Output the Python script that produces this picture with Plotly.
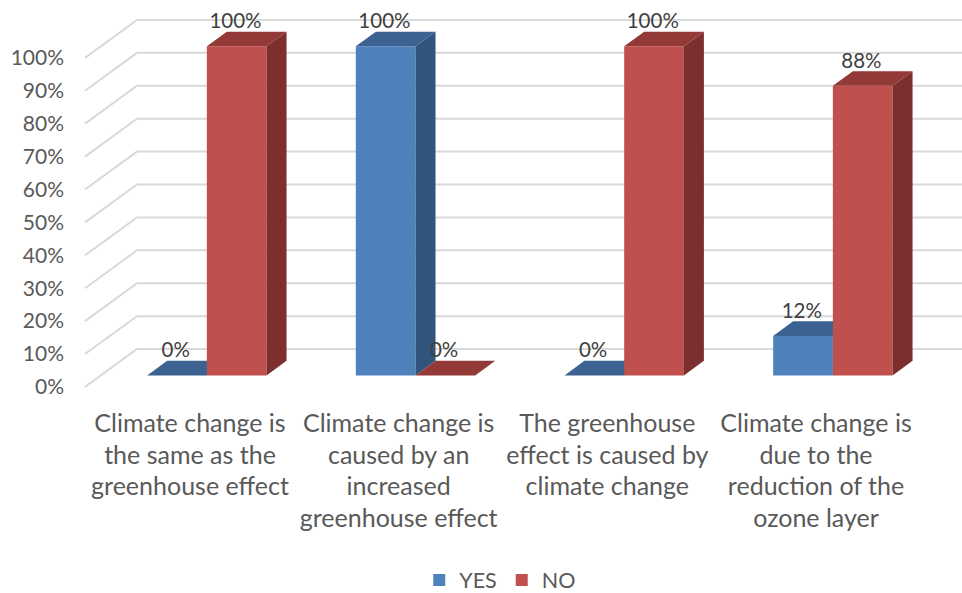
import plotly.graph_objects as go

# --- data ---
category_lines = [
    ["Climate change is", "the same as the", "greenhouse effect"],
    ["Climate change is", "caused by an", "increased", "greenhouse effect"],
    ["The greenhouse", "effect is caused by", "climate change"],
    ["Climate change is", "due to the", "reduction of the", "ozone layer"],
]
yes_values = [0, 100, 0, 12]
no_values = [100, 0, 100, 88]
grid_values = [0, 10, 20, 30, 40, 50, 60, 70, 80, 90, 100]
tick_labels = [f"{v}%" for v in grid_values]

# --- scale constants ---
W, H = 962, 593
PLOT_BOTTOM = 561  # the container-anchored legend reserves the strip below this
PX_PER_CAT = 208.67
X0_PX = 190.0
PX_PER_PCT = 3.3
Y0_PX = 376.5
L_MARGIN = 65
FONT = "Lato, Carlito, sans-serif"

def ux(px):
    return (px - X0_PX) / PX_PER_CAT

def dp(px):
    return px / PX_PER_PCT

def uy(px):
    return (Y0_PX - px) / PX_PER_PCT

BAR_W = 59.7 / PX_PER_CAT
BLUE_C = ux(177)
RED_C = ux(236.7)
DX = 20 / PX_PER_CAT
DY = dp(14.7)
idx = list(range(len(yes_values)))

BLUE, BLUE_TOP, BLUE_SIDE = "#4F81BD", "#3B6291", "#31547C"
RED, RED_TOP, RED_SIDE = "#C0504D", "#933A38", "#7C2F2E"
GRID = "#D9D9D9"


def faces(center, values):
    top_x, top_y, side_x, side_y = [], [], [], []
    for i, v in zip(idx, values):
        l = i + center - BAR_W / 2
        r = i + center + BAR_W / 2
        top_x += [l, r, r + DX, l + DX, l, None]
        top_y += [v, v, v + DY, v + DY, v, None]
        side_x += [r, r + DX, r + DX, r, r, None]
        side_y += [0, DY, v + DY, v, 0, None]
    return top_x, top_y, side_x, side_y


def poly(x, y, color, xa, ya):
    return go.Scatter(x=x, y=y, mode="lines", fill="toself", fillcolor=color,
                      line=dict(width=0, color=color), showlegend=False,
                      hoverinfo="skip", xaxis=xa, yaxis=ya)


fig = go.Figure()

# walls / gridlines
gx, gy = [], []
for g in grid_values:
    gx += [ux(85), ux(137), ux(W + 2), None]
    gy += [g + uy(388), g + uy(350), g + uy(350), None]
fig.add_trace(go.Scatter(x=gx, y=gy, mode="lines", line=dict(color=GRID, width=2),
                         showlegend=False, hoverinfo="skip"))

# YES columns
t_x, t_y, s_x, s_y = faces(BLUE_C, yes_values)
fig.add_trace(go.Bar(x=[i + BLUE_C for i in idx], y=yes_values, width=BAR_W, name="YES",
                     marker=dict(color=BLUE, line=dict(width=0)), xaxis="x2", yaxis="y2",
                     hoverinfo="skip"))
fig.add_trace(poly(s_x, s_y, BLUE_SIDE, "x2", "y2"))
fig.add_trace(poly(t_x, t_y, BLUE_TOP, "x2", "y2"))

# NO columns
t_x, t_y, s_x, s_y = faces(RED_C, no_values)
fig.add_trace(go.Bar(x=[i + RED_C for i in idx], y=no_values, width=BAR_W, name="NO",
                     marker=dict(color=RED, line=dict(width=0)), xaxis="x3", yaxis="y3",
                     hoverinfo="skip"))
fig.add_trace(poly(s_x, s_y, RED_SIDE, "x3", "y3"))
fig.add_trace(poly(t_x, t_y, RED_TOP, "x3", "y3"))

# value labels
lab_x = [i + BLUE_C - 0.006 for i in idx] + [i + RED_C - 0.006 for i in idx]
lab_v = yes_values + no_values
fig.add_trace(go.Scatter(x=lab_x, y=[v + dp(23.5) for v in lab_v], mode="text",
                         text=[f"{v}%" for v in lab_v], textposition="middle center",
                         textfont=dict(family=FONT, size=20.5, color="#404040"),
                         showlegend=False, hoverinfo="skip", xaxis="x3", yaxis="y3",
                         cliponaxis=False))

# category labels, line by line
LINE_PX = [427, 459, 490.5, 522]
cx, cy, ct = [], [], []
for i, lines in enumerate(category_lines):
    for n, s in enumerate(lines):
        cx.append(i)
        cy.append(uy(LINE_PX[n]))
        ct.append(s)
fig.add_trace(go.Scatter(x=cx, y=cy, mode="text", text=ct, textposition="middle center",
                         textfont=dict(family=FONT, size=25, color="#595959"),
                         showlegend=False, hoverinfo="skip", xaxis="x3", yaxis="y3",
                         cliponaxis=False))

xr = [ux(L_MARGIN), ux(W)]
yr = [uy(PLOT_BOTTOM), uy(0)]
hidden = dict(visible=False, fixedrange=True)
fig.update_layout(
    width=W, height=H,
    margin=dict(l=L_MARGIN, r=0, t=0, b=0),
    paper_bgcolor="white", plot_bgcolor="white",
    barmode="overlay",
    font=dict(family=FONT, color="#595959"),
    xaxis=dict(range=xr, showgrid=False, zeroline=False, showticklabels=False,
               ticks="", showline=False, fixedrange=True),
    yaxis=dict(range=yr, showgrid=False, zeroline=False, showline=False, ticks="",
               tickmode="array", tickvals=[g + uy(388) for g in grid_values],
               ticktext=tick_labels, tickfont=dict(family=FONT, size=21, color="#595959"),
               fixedrange=True),
    xaxis2=dict(range=xr, overlaying="x", **hidden),
    yaxis2=dict(range=yr, overlaying="y", **hidden),
    xaxis3=dict(range=xr, overlaying="x", **hidden),
    yaxis3=dict(range=yr, overlaying="y", **hidden),
    legend=dict(orientation="h", xref="container", yref="container", x=0.52, xanchor="center",
                y=0.022, yanchor="middle",
                font=dict(family=FONT, size=21.5, color="#595959"),
                bgcolor="rgba(0,0,0,0)", traceorder="normal"),
)

fig.write_html("out.html", config=dict(displayModeBar=False),
               post_script="document.body.style.margin='0';document.documentElement.style.overflow='hidden';")
